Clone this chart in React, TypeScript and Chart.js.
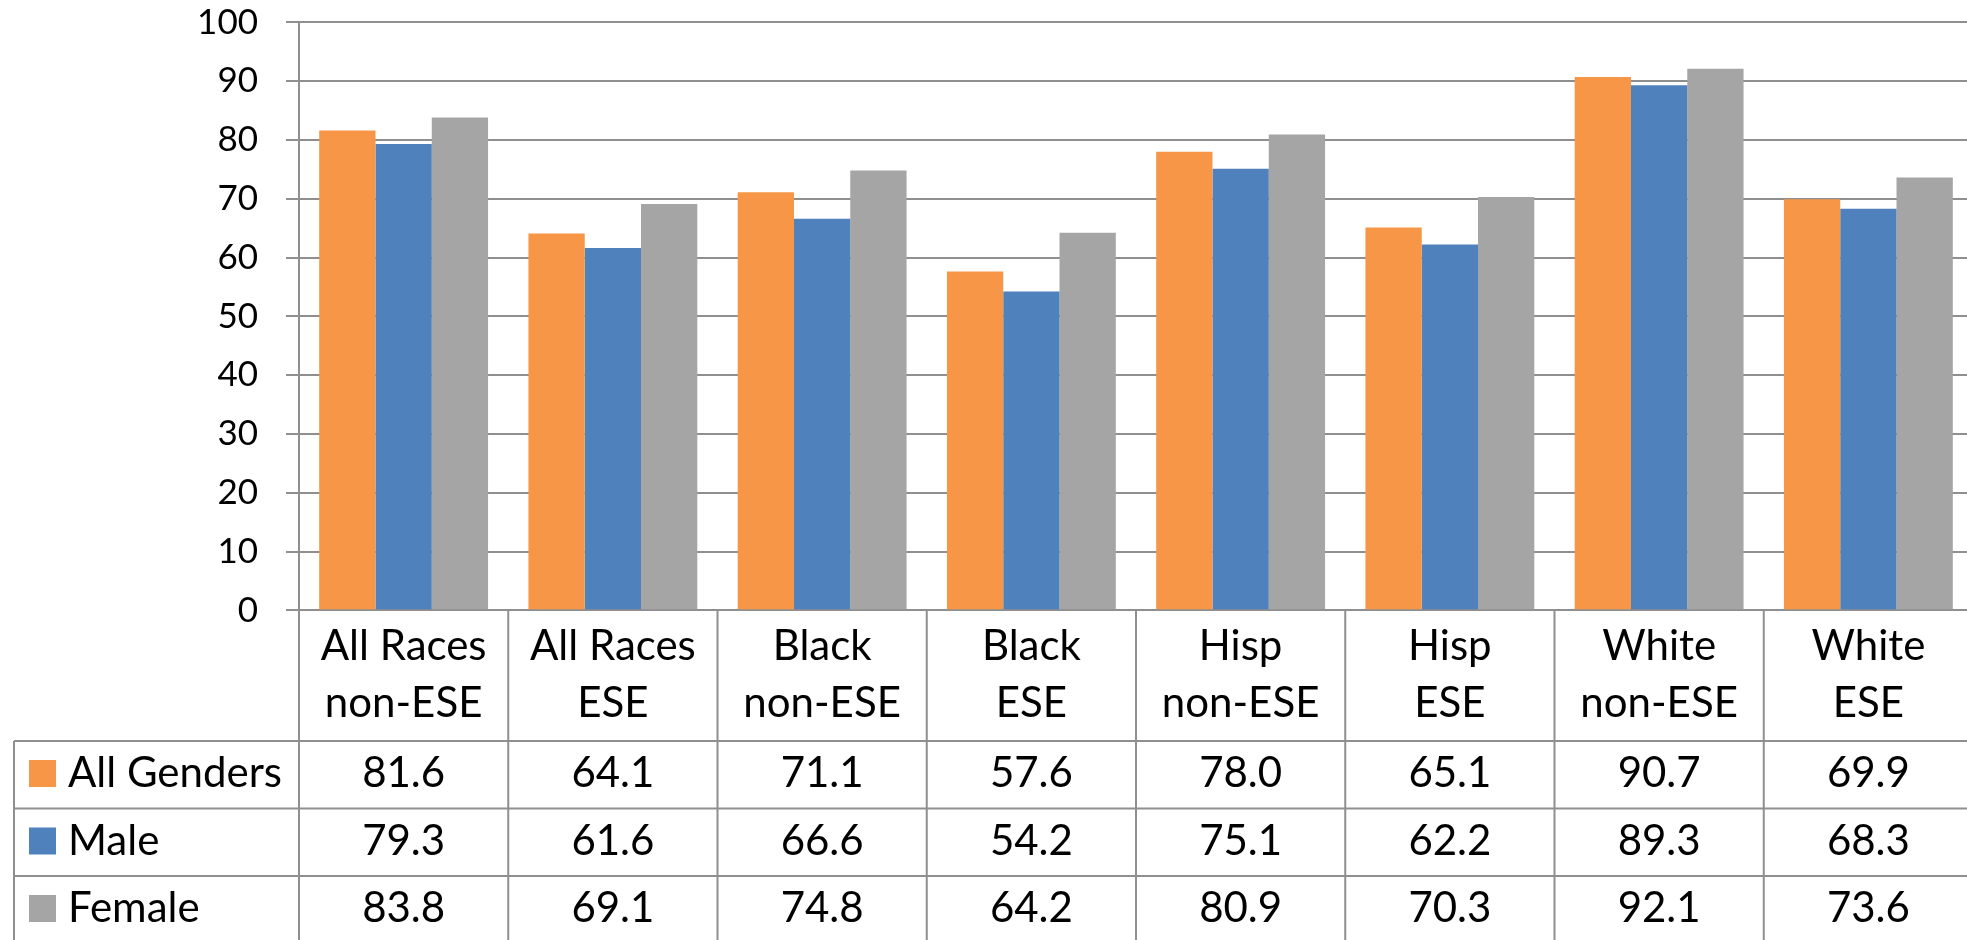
import React, { useEffect, useRef } from "react";
import { Chart, registerables } from "chart.js";

Chart.register(...registerables);

const categories: string[][] = [
  ["All Races", "non-ESE"],
  ["All Races", "ESE"],
  ["Black", "non-ESE"],
  ["Black", "ESE"],
  ["Hisp", "non-ESE"],
  ["Hisp", "ESE"],
  ["White", "non-ESE"],
  ["White", "ESE"],
];
const seriesNames = ["All Genders", "Male", "Female"];
const allGenders = [81.6, 64.1, 71.1, 57.6, 78.0, 65.1, 90.7, 69.9];
const male = [79.3, 61.6, 66.6, 54.2, 75.1, 62.2, 89.3, 68.3];
const female = [83.8, 69.1, 74.8, 64.2, 80.9, 70.3, 92.1, 73.6];
const seriesColors = ["#F79646", "#4F81BD", "#A5A5A5"];
const yMin = 0;
const yMax = 100;
const yStep = 10;

const FONT = "Lato, 'Liberation Sans', sans-serif";
const LINE = "#8f8f8f";

const tablePlugin = {
  id: "dataTable",
  afterDraw(chart: any) {
    const ctx = chart.ctx as CanvasRenderingContext2D;
    const xs = chart.scales.x;
    const area = chart.chartArea;
    const H = chart.height;
    const W = chart.width;
    const n = categories.length;
    const half = (xs.getPixelForValue(1) - xs.getPixelForValue(0)) / 2;
    const tableTop = 741;
    const rowH = 67.5;
    const legendLeft = 14;
    ctx.save();
    ctx.strokeStyle = LINE;
    ctx.lineWidth = 2;
    for (let i = 0; i <= n; i++) {
      const px = i < n ? xs.getPixelForValue(i) - half : xs.getPixelForValue(n - 1) + half;
      ctx.beginPath();
      ctx.moveTo(px, area.bottom);
      ctx.lineTo(px, H);
      ctx.stroke();
    }
    ctx.beginPath();
    ctx.moveTo(legendLeft, tableTop);
    ctx.lineTo(legendLeft, H);
    ctx.stroke();
    for (let r = 0; r < 3; r++) {
      const y = tableTop + r * rowH;
      ctx.beginPath();
      ctx.moveTo(legendLeft, y);
      ctx.lineTo(W, y);
      ctx.stroke();
    }
    const data = chart.data.datasets;
    ctx.font = `42px ${FONT}`;
    ctx.textBaseline = "alphabetic";
    for (let r = 0; r < data.length; r++) {
      const base = tableTop + r * rowH + 46;
      ctx.fillStyle = data[r].backgroundColor;
      ctx.fillRect(29, base - 27, 27, 27);
      ctx.fillStyle = "#000";
      ctx.textAlign = "left";
      ctx.fillText(data[r].label, 68, base);
      ctx.textAlign = "center";
      for (let i = 0; i < n; i++) {
        ctx.fillText(Number(data[r].data[i]).toFixed(1), xs.getPixelForValue(i), base);
      }
    }
    ctx.restore();
  },
};

export default function App() {
  const ref = useRef<HTMLCanvasElement>(null);
  useEffect(() => {
    if (!ref.current) return;
    const chart = new Chart(ref.current, {
      type: "bar",
      data: {
        labels: categories,
        datasets: [allGenders, male, female].map((d, i) => ({
          label: seriesNames[i],
          data: d,
          backgroundColor: seriesColors[i],
          borderWidth: 0,
          categoryPercentage: 0.807,
          barPercentage: 1.0,
        })),
      },
      options: {
        responsive: false,
        animation: false,
        devicePixelRatio: 1,
        layout: { padding: { top: 22.3, left: 0, right: 0, bottom: 0 } },
        plugins: { legend: { display: false }, tooltip: { enabled: false } },
        scales: {
          x: {
            grid: { display: false },
            border: { display: false },
            ticks: {
              color: "#000",
              font: { family: FONT, size: 42, lineHeight: 57.5 / 42 },
              padding: -1,
              maxRotation: 0,
              minRotation: 0,
              autoSkip: false,
            },
            afterFit: (s: any) => {
              s.height = 940 - 610.3;
              s.paddingLeft = 0;
              s.paddingRight = 0;
            },
          },
          y: {
            min: yMin,
            max: yMax,
            ticks: {
              stepSize: yStep,
              color: "#000",
              font: { family: FONT, size: 35 },
              padding: 28,
            },
            grid: { color: LINE, lineWidth: 2, tickLength: 13, drawTicks: true },
            border: { display: true, color: LINE, width: 2 },
            afterFit: (s: any) => {
              s.width = 299;
              s.paddingTop = 0;
              s.paddingBottom = 0;
            },
          },
        },
      },
      plugins: [tablePlugin],
    });
    return () => chart.destroy();
  }, []);
  return (
    <div style={{ position: "fixed", left: 0, top: 0, width: 1967, height: 940, overflow: "hidden", background: "#fff" }}>
      <canvas ref={ref} width={1973} height={940} style={{ display: "block" }} />
    </div>
  );
}
